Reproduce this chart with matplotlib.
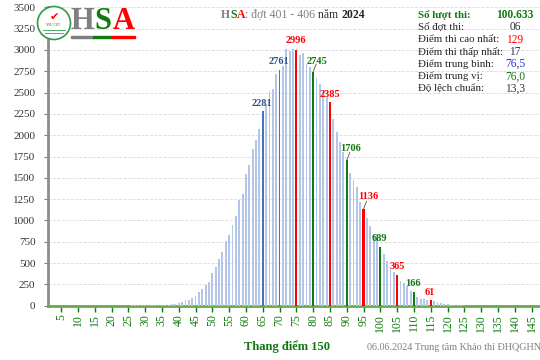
import numpy as np
import matplotlib.pyplot as plt
from matplotlib.patches import Ellipse, Rectangle

plt.rcParams['font.family'] = ['Liberation Serif', 'DejaVu Serif']

# score distribution (score 17..129)
first_score = 17
counts = [1, 0, 1, 1, 1, 1, 2, 2, 2, 3, 3, 4, 4, 5, 6, 7, 8, 9, 10, 12,       # 17-36
          14, 16, 20, 28, 43, 63, 66, 86, 110, 157, 200, 246, 281,            # 37-49
          383, 454, 544, 630, 758, 832, 946, 1052, 1239, 1309,                # 50-59
          1544, 1653, 1833, 1940, 2071, 2281, 2361, 2517, 2540, 2713,         # 60-69
          2761, 2810, 3010, 2985, 3010, 2996, 2940, 2960, 2840, 2800,         # 70-79
          2745, 2673, 2600, 2510, 2450, 2385, 2189, 2040, 1915, 1805,         # 80-89
          1706, 1552, 1474, 1388, 1219, 1136, 1032, 934, 837, 770,            # 90-99
          689, 606, 528, 438, 395, 365, 293, 262, 231, 176,                   # 100-109
          166, 106, 79, 75, 70, 61, 51, 43, 32, 23,                           # 110-119
          16, 12, 8, 5, 3, 2, 2, 1, 1, 1]                                     # 120-129
scores = np.arange(first_score, first_score + len(counts))
counts = np.array(counts)

red_scores = [75, 85, 95, 105, 115]
green_scores = [80, 90, 100, 110]
dark_scores = [65, 70]

# labelled bars: score, label position (x, y)
bar_labels = [(65, 64.9, 2376), (70, 69.9, 2863), (75, 75.0, 3109), (80, 81.0, 2860),
              (85, 84.9, 2478), (90, 91.0, 1845), (95, 96.3, 1278), (100, 99.8, 790),
              (105, 104.9, 457), (110, 109.8, 263), (115, 114.8, 158)]
leader_scores = [80, 90, 95]

stats_names = ["Số lượt thi:", "Số đợt thi:", "Điểm thi cao nhất:", "Điểm thi thấp nhất:",
               "Điểm trung bình:", "Điểm trung vị:", "Độ lệch chuẩn:"]
stats_values = ["100.633", "06", "129", "17", "76,5", "76,0", "13,3"]

RED = '#ff0000'
GREEN = '#0f7a0f'
LIGHT = '#b4c6e7'
DARK = '#4472c4'
BLUE_TXT = '#2f5597'

fig = plt.figure(figsize=(5.4, 3.6), dpi=100)
ax = fig.add_axes([48/540, 54.3/360, 492/540, 298.4/360])

colors = []
widths = []
for s in scores:
    if s in red_scores:
        colors.append(RED); widths.append(0.65)
    elif s in green_scores:
        colors.append(GREEN); widths.append(0.65)
    elif s in dark_scores:
        colors.append(DARK); widths.append(0.55)
    else:
        colors.append(LIGHT); widths.append(0.55)
ax.bar(scores, counts, width=widths, color=colors, zorder=3)

for s, tx, ty in bar_labels:
    v = counts[s - first_score]
    if s in red_scores:
        c = RED
    elif s in green_scores:
        c = GREEN
    else:
        c = BLUE_TXT
    ax.text(tx, ty, str(v), ha='center', va='center', fontsize=7.5,
            fontweight='bold', color=c, zorder=5)
    if s in leader_scores:
        ax.plot([s, s + 0.9], [v, v + 90], color='#555555', lw=0.6, zorder=4)

ax.set_xlim(1.1, 147.5)
ax.set_ylim(0, 3500)
ax.set_yticks(np.arange(0, 3501, 250))
ax.set_xticks(np.arange(5, 146, 5))
ax.set_xticklabels([str(x) for x in range(5, 146, 5)], rotation=90)
ax.tick_params(axis='x', colors=GREEN, labelsize=8.5, length=4, width=1, pad=2)
ax.tick_params(axis='y', colors='#808080', labelcolor='#333333', labelsize=8, length=3, pad=6)
ax.grid(axis='y', color='#d9d9d9', ls='--', lw=0.6, zorder=0)
for sp in ['top', 'right']:
    ax.spines[sp].set_visible(False)
ax.spines['left'].set_color('#8c8c8c')
ax.spines['left'].set_linewidth(2)
ax.spines['bottom'].set_color('#6aa84f')
ax.spines['bottom'].set_linewidth(2)

# title
y_t = 1 - 15/360
parts = [("H", '#7f7f7f', 'bold'), ("S", GREEN, 'bold'), ("A", RED, 'bold'),
         (": đợt 401 - 406 ", '#7f7f7f', 'normal'), ("năm ", '#333333', 'normal'),
         ("2024", '#222222', 'bold')]
renderer = fig.canvas.get_renderer()
x0 = 221/540
for txt, c, w in parts:
    t = fig.text(x0, y_t, txt, fontsize=8.5, color=c, fontweight=w, va='center', ha='left')
    bb = t.get_window_extent(renderer)
    x0 += bb.width / 540

# stats block
for i, (n, v) in enumerate(zip(stats_names, stats_values)):
    yy = 1 - (15 + 12.3*i)/360
    if i == 0:
        fig.text(418/540, yy, n, fontsize=7.8, color=GREEN, fontweight='bold', va='center')
        fig.text(515/540, yy, v, fontsize=8.3, color=GREEN, fontweight='bold', va='center', ha='center')
    else:
        vc = {2: RED, 4: '#2233cc', 5: GREEN, 3: '#333355'}.get(i, '#333333')
        fig.text(418/540, yy, n, fontsize=7.8, color='#222222', va='center')
        fig.text(515/540, yy, v, fontsize=8.3, color=vc, va='center', ha='center')

# logo
circ = Ellipse((54/540, 1 - 23/360), 33/540, 33/360, transform=fig.transFigure,
               facecolor='white', edgecolor='#2e9a4a', lw=1.2, zorder=10)
fig.patches.append(circ)
fig.text(54/540, 1 - 17/360, "✔", fontsize=8, color=RED, ha='center', va='center',
         family='DejaVu Sans', zorder=11)
fig.text(54/540, 1 - 25/360, "VNU-CET", fontsize=2.5, color=GREEN, ha='center', va='center', zorder=11)
for xa, xb, yy in [(43, 65, 30), (45, 63, 33)]:
    fig.lines.append(plt.Line2D([xa/540, xb/540], [1 - yy/360, 1 - yy/360],
                                transform=fig.transFigure, color='#2e9a4a', lw=0.6, zorder=11))
for letter, xc, c in [("H", 82, '#7f7f7f'), ("S", 102.5, GREEN), ("A", 123.5, RED)]:
    fig.text(xc/540, 1 - 21.5/360, letter, fontsize=22, color=c, fontweight='bold',
             ha='center', va='center', zorder=11)
for xa, xb, c in [(71, 93, '#7f7f7f'), (93, 112, GREEN), (112, 135, RED)]:
    fig.patches.append(Rectangle((xa/540, 1 - 38/360), (xb - xa)/540, 2/360,
                                 transform=fig.transFigure, color=c, zorder=11))

# axis title and footer
fig.text(287/540, 1 - 347/360, "Thang điểm 150", fontsize=9, fontweight='bold', color=GREEN,
         ha='center', va='center')
fig.text(367/540, 1 - 347/360, "06.06.2024 Trung tâm Khảo thí ĐHQGHN", fontsize=7.3,
         color='#7f7f7f', ha='left', va='center')

plt.savefig("out.png", dpi=100)
